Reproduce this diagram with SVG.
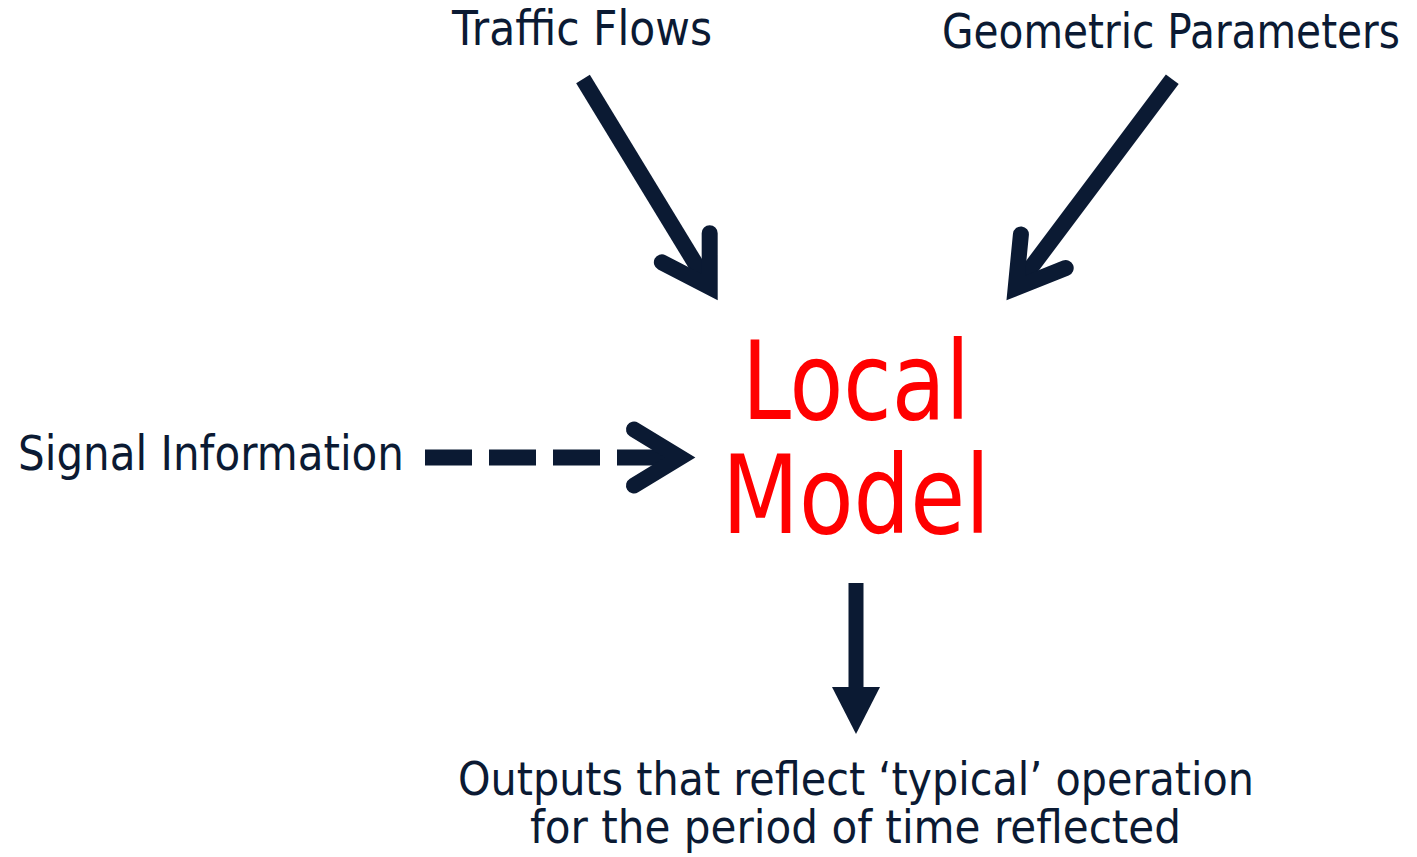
<svg xmlns="http://www.w3.org/2000/svg" width="1417" height="857" viewBox="0 0 1417 857">
<style>
  .lbl { font-family: "DejaVu Sans", "Liberation Sans", sans-serif; font-size: 48px; fill: #0B1A33; }
  .out { font-family: "DejaVu Sans", "Liberation Sans", sans-serif; font-size: 46px; fill: #0B1A33; }
  .core { font-family: "DejaVu Sans", "Liberation Sans", sans-serif; font-size: 108px; fill: #FF0000; }
  .conn { fill: none; stroke: #0B1A33; stroke-width: 16; }
</style>
<defs>
  <marker id="head" markerUnits="userSpaceOnUse" orient="auto" markerWidth="120" markerHeight="120" refX="0" refY="0" overflow="visible">
    <path d="M-46,-28 L0,0 L-46,28" fill="none" stroke="#0B1A33" stroke-width="16" stroke-linecap="round" stroke-linejoin="miter" stroke-miterlimit="10"/>
  </marker>
</defs>
<rect width="1417" height="857" fill="#FFFFFF"/>

<g id="traffic-flows">
  <text class="lbl" x="452" y="45" textLength="260" lengthAdjust="spacingAndGlyphs">Traffic Flows</text>
</g>
<g id="geometric-parameters">
  <text class="lbl" x="942" y="48" textLength="458" lengthAdjust="spacingAndGlyphs">Geometric Parameters</text>
</g>
<g id="signal-information">
  <text class="lbl" x="18" y="470" textLength="386" lengthAdjust="spacingAndGlyphs">Signal Information</text>
</g>
<g id="local-model">
  <text class="core" x="742" y="419" textLength="228" lengthAdjust="spacingAndGlyphs">Local</text>
  <text class="core" x="722" y="533" textLength="268" lengthAdjust="spacingAndGlyphs">Model</text>
</g>
<g id="outputs">
  <text class="out" x="458" y="795" textLength="796" lengthAdjust="spacingAndGlyphs">Outputs that reflect ‘typical’ operation</text>
  <text class="out" x="530" y="843" textLength="651" lengthAdjust="spacingAndGlyphs">for the period of time reflected</text>
</g>

<g id="connectors">
  <path class="conn" d="M583,79 L709.7,287" marker-end="url(#head)"/>
  <path class="conn" d="M1172.3,79.3 L1015.7,288" marker-end="url(#head)"/>
  <path class="conn" d="M425,457.5 H680" stroke-width="15" stroke-dasharray="47 17 47 17 47 17 300" marker-end="url(#head)"/>
  <path d="M856,583 V690" fill="none" stroke="#0B1A33" stroke-width="15"/>
  <polygon points="832,687 880,687 856,734" fill="#0B1A33"/>
</g>
</svg>
